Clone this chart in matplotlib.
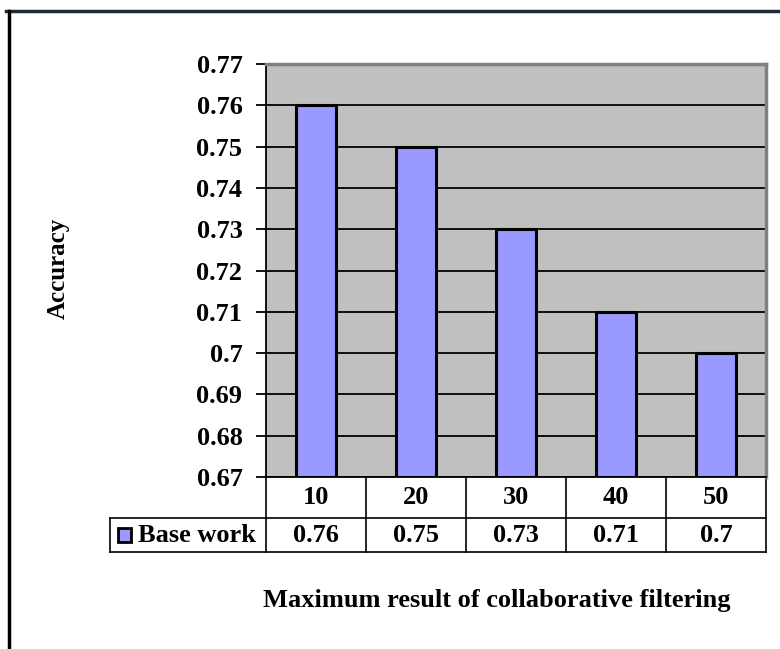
import numpy as np
import matplotlib.pyplot as plt
from matplotlib.patches import Rectangle
from matplotlib.lines import Line2D
import matplotlib.transforms as mtransforms

categories = ['10', '20', '30', '40', '50']
accuracy = [0.76, 0.75, 0.73, 0.71, 0.70]
value_labels = ['0.76', '0.75', '0.73', '0.71', '0.7']
series_name = 'Base work'
yticks = [0.67, 0.68, 0.69, 0.70, 0.71, 0.72, 0.73, 0.74, 0.75, 0.76, 0.77]
ytick_labels = ['0.67', '0.68', '0.69', '0.7', '0.71', '0.72', '0.73', '0.74', '0.75', '0.76', '0.77']

plt.rcParams['font.family'] = ['Liberation Serif', 'DejaVu Serif']
plt.rcParams['font.weight'] = 'bold'
fs = 19

fig = plt.figure(figsize=(7.8, 6.49), dpi=100)
W, H = 780, 649
ax = fig.add_axes([266 / W, 1 - 477 / H, 500 / W, 413 / H])

bar_color = '#9999FF'
x = np.arange(len(categories))
ax.set_facecolor('#C0C0C0')
ax.bar(x, np.array(accuracy) - 0.67, bottom=0.67, width=0.4, color=bar_color,
       edgecolor='black', linewidth=2.2, zorder=3)

ax.set_xlim(-0.5, len(categories) - 0.5)
ax.set_ylim(0.67, 0.77)
ax.set_yticks(yticks)
ax.set_yticklabels(ytick_labels, fontsize=fs, fontweight='bold')
ax.set_xticks([])
ax.yaxis.grid(True, color='black', linewidth=1.3, zorder=1)
ax.set_axisbelow(True)
ax.tick_params(axis='y', length=7, width=1.3, pad=10, color='black')
for side in ['top', 'right']:
    ax.spines[side].set_color('#808080')
    ax.spines[side].set_linewidth(2.5)
ax.spines['left'].set_color('black')
ax.spines['left'].set_linewidth(1.3)
ax.spines['bottom'].set_color('black')
ax.spines['bottom'].set_linewidth(1.3)

# data table under the plot: x in data units, y in axes fraction
tr = mtransforms.blended_transform_factory(ax.transData, ax.transAxes)
row1_top, row1_bot = 0.0, -41 / 413
row2_bot = -75 / 413
head_left = -0.5 - 156 / 100
lw = 1.2
right = len(categories) - 0.5

def tline(xs, ys):
    ax.add_line(Line2D(xs, ys, transform=tr, color='black', linewidth=lw, clip_on=False))

tline([-0.5, right], [row1_bot, row1_bot])
tline([head_left, -0.5], [row1_bot, row1_bot])
tline([head_left, right], [row2_bot, row2_bot])
tline([head_left, head_left], [row1_bot, row2_bot])
for i in range(len(categories) + 1):
    tline([i - 0.5, i - 0.5], [row1_top, row2_bot])

for i, (c, v) in enumerate(zip(categories, value_labels)):
    ax.text(i, (row1_top + row1_bot) / 2, c, transform=tr, ha='center', va='center',
            fontsize=fs, fontweight='bold')
    ax.text(i, (row1_bot + row2_bot) / 2, v, transform=tr, ha='center', va='center',
            fontsize=fs, fontweight='bold')

ymid = (row1_bot + row2_bot) / 2
ax.add_patch(Rectangle((head_left + 0.08, ymid - 0.017), 0.13, 0.034, transform=tr,
                       facecolor=bar_color, edgecolor='black', linewidth=2, clip_on=False))
ax.text(head_left + 0.28, ymid, series_name, transform=tr, ha='left', va='center',
        fontsize=fs, fontweight='bold')

fig.text(58 / W, 1 - 268 / H, 'Accuracy', rotation=90, ha='center', va='center',
         fontsize=fs - 1, fontweight='bold')
fig.text(497 / W, 1 - 600 / H, 'Maximum result of collaborative filtering',
         ha='center', va='center', fontsize=fs, fontweight='bold')

# outer frame (top and left edges only)
fig.add_artist(Line2D([6 / W, 1], [1 - 11 / H, 1 - 11 / H], color='#1f2a3a', linewidth=2.5))
fig.add_artist(Line2D([9 / W, 9 / W], [0, 1 - 11 / H], color='black', linewidth=2.5))

fig.savefig('out.png', dpi=100)
